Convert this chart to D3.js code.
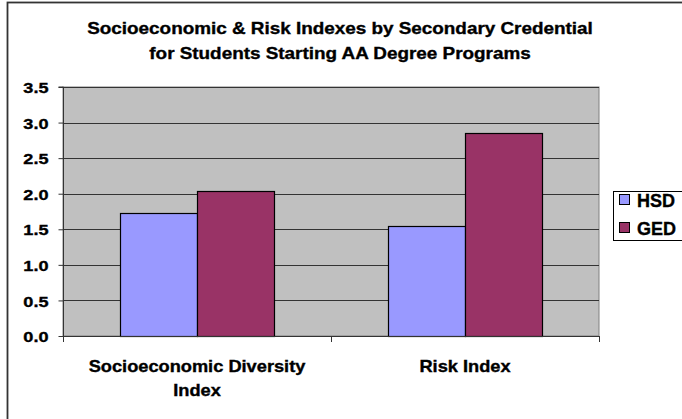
<!DOCTYPE html>
<html>
<head>
<meta charset="utf-8">
<script src="https://cdn.jsdelivr.net/npm/d3@7"></script>
<style>
  html, body { margin: 0; padding: 0; background: #fff; }
  svg { display: block; font-family: "Liberation Sans", Arial, sans-serif; }
  svg text { stroke: #000; stroke-width: 0.35px; }
</style>
</head>
<body>
<svg id="chart" width="682" height="419"></svg>
<script>
// Chart data
const categories = [["Socioeconomic Diversity", "Index"], ["Risk Index"]];
const seriesNames = ["HSD", "GED"];
const hsdValues = [1.73, 1.54];
const gedValues = [2.04, 2.85];
const yTicks = [0, 0.5, 1, 1.5, 2, 2.5, 3, 3.5];
const seriesColors = ["#9999ff", "#993366"];
const titleLines = [
  "Socioeconomic & Risk Indexes by Secondary Credential",
  "for Students Starting AA Degree Programs"
];

const svg = d3.select("#chart");

// Places a text at (x, y) with a horizontal stretch factor
function stretched(sel, sx) {
  return sel.attr("transform", function () {
    const x = +this.getAttribute("data-x"), y = +this.getAttribute("data-y");
    return `translate(${x},${y}) scale(${sx},1)`;
  });
}

// Chart area border (runs off the right and bottom edges)
svg.append("rect")
  .attr("x", 7.5).attr("y", 2.5)
  .attr("width", 700).attr("height", 440)
  .attr("fill", "#fff").attr("stroke", "#333").attr("stroke-width", 1.8);

// Title
svg.append("g").selectAll("text").data(titleLines).join("text")
  .attr("data-x", 340).attr("data-y", (d, i) => 34 + i * 25)
  .attr("text-anchor", "middle")
  .attr("font-weight", "bold").attr("font-size", 16.5)
  .attr("fill", "#000")
  .text(d => d)
  .call(stretched, 1.145);

const plot = { left: 63, right: 599, top: 87, bottom: 336 };

const x0 = d3.scaleBand()
  .domain(d3.range(categories.length))
  .range([plot.left, plot.right])
  .paddingInner(0).paddingOuter(0);

const groupW = 154;
const x1 = d3.scaleBand()
  .domain(seriesNames)
  .range([0, groupW]);

const y = d3.scaleLinear().domain([0, 3.5]).range([plot.bottom, plot.top]);

// Plot background
svg.append("rect")
  .attr("x", plot.left).attr("y", plot.top)
  .attr("width", plot.right - plot.left).attr("height", plot.bottom - plot.top)
  .attr("fill", "#c0c0c0").attr("stroke", "#808080").attr("stroke-width", 1);

// Gridlines
svg.append("g").selectAll("line").data(yTicks.filter(t => t > 0)).join("line")
  .attr("x1", plot.left).attr("x2", plot.right)
  .attr("y1", d => Math.round(y(d)) + 0.5).attr("y2", d => Math.round(y(d)) + 0.5)
  .attr("stroke", "#333").attr("stroke-width", 1);

// Bars
const rows = categories.map((c, i) => ({ i, values: [hsdValues[i], gedValues[i]] }));
const groups = svg.append("g").selectAll("g").data(rows).join("g")
  .attr("transform", d => `translate(${x0(d.i) + (x0.bandwidth() - groupW) / 2},0)`);

groups.selectAll("rect").data(d => d.values.map((v, k) => ({ v, k }))).join("rect")
  .attr("x", d => x1(seriesNames[d.k]) + 0.5)
  .attr("y", d => Math.round(y(d.v)) + 0.5)
  .attr("width", x1.bandwidth())
  .attr("height", d => Math.round(y(0)) - Math.round(y(d.v)))
  .attr("fill", d => seriesColors[d.k])
  .attr("stroke", "#000").attr("stroke-width", 1.2);

// Y axis
const yAxis = d3.axisLeft(y).tickValues(yTicks).tickSize(5).tickPadding(0)
  .tickFormat(d3.format(".1f"));
const gy = svg.append("g").attr("transform", `translate(${plot.left + 0.5},0)`).call(yAxis);
gy.select(".domain").attr("stroke", "#333").attr("d", `M-5,${plot.top}H0V${plot.bottom}`);
gy.selectAll(".tick line").attr("stroke", "#333");
gy.selectAll(".tick text")
  .attr("font-family", "Liberation Sans, Arial, sans-serif")
  .attr("font-size", 15.5).attr("font-weight", "bold").attr("fill", "#000")
  .attr("x", null).attr("dy", "0.36em")
  .attr("transform", "translate(-15,0) scale(1.17,1)");

// X axis line with category dividers
const gx = svg.append("g");
gx.append("line")
  .attr("x1", plot.left).attr("x2", plot.right)
  .attr("y1", plot.bottom + 0.5).attr("y2", plot.bottom + 0.5)
  .attr("stroke", "#333").attr("stroke-width", 1.2);
const dividers = d3.range(categories.length + 1).map(i => plot.left + i * x0.step());
gx.selectAll("line.tick").data(dividers).join("line")
  .attr("class", "tick")
  .attr("x1", d => Math.round(d) + 0.5).attr("x2", d => Math.round(d) + 0.5)
  .attr("y1", plot.bottom).attr("y2", plot.bottom + 6)
  .attr("stroke", "#333").attr("stroke-width", 1);

// Category labels
const labels = svg.append("g").selectAll("text").data(categories).join("text")
  .attr("text-anchor", "middle")
  .attr("font-weight", "bold").attr("font-size", 16).attr("fill", "#000")
  .attr("transform", (d, i) => `translate(${x0(i) + x0.bandwidth() / 2},0) scale(1.14,1)`);
labels.selectAll("tspan").data(d => d).join("tspan")
  .attr("x", 0).attr("y", (d, i) => 372 + i * 24)
  .text(d => d);

// Legend
const legend = svg.append("g");
legend.append("rect")
  .attr("x", 613.5).attr("y", 191.5).attr("width", 80).attr("height", 49)
  .attr("fill", "#fff").attr("stroke", "#000").attr("stroke-width", 1);
const items = legend.selectAll("g").data(seriesNames).join("g")
  .attr("transform", (d, i) => `translate(619,${200 + i * 28})`);
items.append("rect")
  .attr("x", 0.5).attr("y", -5.5).attr("width", 10).attr("height", 10)
  .attr("fill", (d, i) => seriesColors[i]).attr("stroke", "#000").attr("stroke-width", 1);
items.append("text")
  .attr("x", 18).attr("y", 6.5)
  .attr("font-weight", "bold").attr("font-size", 18).attr("fill", "#000")
  .text(d => d);
</script>
</body>
</html>
